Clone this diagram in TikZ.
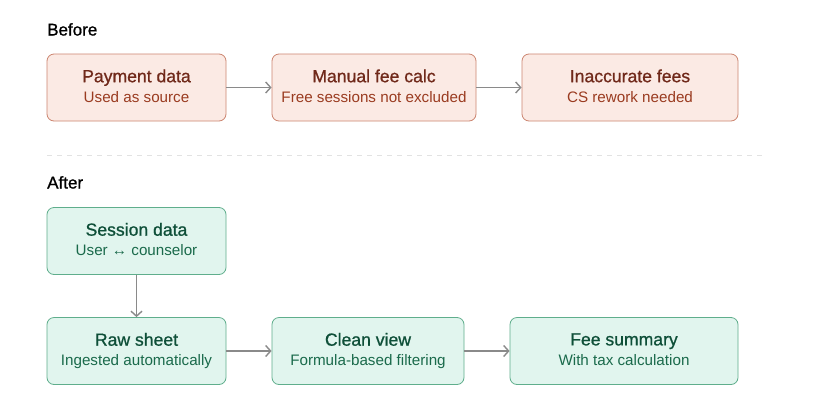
\documentclass[tikz,border=0pt]{standalone}
\usepackage{fontspec}
\setmainfont{Liberation Sans}
\newfontfamily\medfont[FakeBold=0.9]{Liberation Sans}
\usetikzlibrary{arrows.meta}
\definecolor{befFill}{HTML}{FBEAE4}
\definecolor{befDraw}{HTML}{CC8570}
\definecolor{befTitle}{HTML}{70291A}
\definecolor{befSub}{HTML}{9A3B20}
\definecolor{aftFill}{HTML}{E1F5EE}
\definecolor{aftDraw}{HTML}{5FAE8C}
\definecolor{aftTitle}{HTML}{0E4F38}
\definecolor{aftSub}{HTML}{1A6A4B}
\definecolor{arrowGray}{HTML}{8A8A8A}
\definecolor{dashGray}{HTML}{E2E2E2}
\tikzset{
  box/.style={draw, rounded corners=7pt, line width=0.8pt, minimum height=67pt, inner sep=0pt, align=center},
  befbox/.style={box, fill=befFill, draw=befDraw},
  aftbox/.style={box, fill=aftFill, draw=aftDraw},
  conn/.style={draw=arrowGray, line width=1.4pt, -{Straight Barb[length=5pt,width=11pt,line width=1.4pt]}},
  header/.style={anchor=base west, inner sep=0pt, font=\medfont\fontsize{17}{20}\selectfont, text=black},
}
\newcommand{\twoline}[4]{{\medfont\fontsize{17.6}{20}\selectfont\color{#1}\vphantom{Aypg}#3}\\[4.5pt]{\fontsize{15.2}{17}\selectfont\color{#2}\vphantom{Aypg}#4}}
\newcommand{\btext}[2]{\twoline{befTitle}{befSub}{#1}{#2}}
\newcommand{\atext}[2]{\twoline{aftTitle}{aftSub}{#1}{#2}}
\begin{document}
\begin{tikzpicture}[x=1pt,y=-1pt]
\useasboundingbox[fill=white] (0,0) rectangle (814,416);
\node[header] (hbefore) at (47,35.5) {Before};
\node[header] (hafter) at (47,188.5) {After};
\node[befbox, minimum width=179pt] (pay) at (136.5,87.5) {\btext{Payment data}{Used as source}};
\node[befbox, minimum width=204pt] (man) at (374,87.5) {\btext{Manual fee calc}{Free sessions not excluded}};
\node[befbox, minimum width=216pt] (inacc) at (630,87.5) {\btext{Inaccurate fees}{CS rework needed}};
\coordinate (dl) at (47,155);
\coordinate (dr) at (762,155);
\draw[dashGray, line width=0.8pt, dash pattern=on 5pt off 5pt] (dl) -- (dr);
\node[aftbox, minimum width=179pt] (sess) at (136.5,241) {\atext{Session data}{User ↔ counselor}};
\node[aftbox, minimum width=179pt] (raw) at (136.5,351) {\atext{Raw sheet}{Ingested automatically}};
\node[aftbox, minimum width=192pt] (clean) at (368,351) {\atext{Clean view}{Formula-based filtering}};
\node[aftbox, minimum width=228pt] (fee) at (624,351) {\atext{Fee summary}{With tax calculation}};
\draw[conn] (pay) -- (man);
\draw[conn] (man) -- (inacc);
\draw[conn] (sess) -- (raw);
\draw[conn] (raw) -- (clean);
\draw[conn] (clean) -- (fee);
\end{tikzpicture}
\end{document}
